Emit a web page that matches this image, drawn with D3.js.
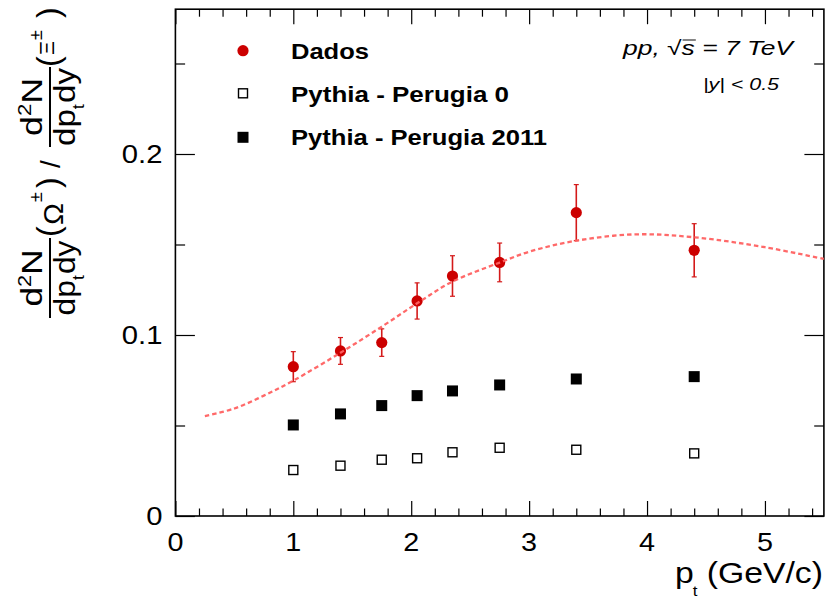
<!DOCTYPE html>
<html><head><meta charset="utf-8">
<script src="https://cdn.jsdelivr.net/npm/d3@7"></script>
<style>
body{margin:0;background:#fff}
svg{display:block}
text{font-family:"Liberation Sans",Arial,Helvetica,sans-serif;fill:#000}
</style>
</head><body>
<svg id="c" width="825" height="602"></svg>
<script>
// ---- data ----
const ptBins      = [1.0, 1.4, 1.75, 2.05, 2.35, 2.75, 3.4, 4.4];
const dados       = [0.0825, 0.0912, 0.0958, 0.1188, 0.1326, 0.1401, 0.1676, 0.1468];
const dadosErr    = [0.0083, 0.0074, 0.0076, 0.0100, 0.0112, 0.0107, 0.0155, 0.0147];
const perugia0    = [0.0254, 0.0278, 0.0311, 0.0319, 0.0352, 0.0377, 0.0366, 0.0346];
const perugia2011 = [0.0503, 0.0564, 0.0610, 0.0665, 0.0691, 0.0724, 0.0757, 0.0770];
const fitPt       = [0.25, 0.5, 0.75, 1.0, 1.4, 1.75, 2.05, 2.35, 2.75, 3.0, 3.4, 3.9, 4.4, 5.0, 5.5];
const fitRatio    = [0.0552, 0.0594, 0.0665, 0.0748, 0.0902, 0.1046, 0.1175, 0.1295, 0.1400, 0.1460, 0.1521, 0.1556, 0.1540, 0.1485, 0.1420];
const xTickValues = [0, 1, 2, 3, 4, 5];
const xTickLabels = ["0", "1", "2", "3", "4", "5"];
const yTickValues = [0, 0.1, 0.2];
const yTickLabels = ["0", "0.1", "0.2"];
const legendLabels = ["Dados", "Pythia - Perugia 0", "Pythia - Perugia 2011"];

const svg = d3.select("#c");
const L = 175.4, R = 823.9, T = 9.2, B = 516;
const x = d3.scaleLinear().domain([0, 5.5]).range([L, R]);
const y = d3.scaleLinear().domain([0, 0.28]).range([B, T]);
const RED = "#cc0000";

function stretch(sel, f) {
  sel.each(function () {
    const w = this.getComputedTextLength();
    d3.select(this).attr("textLength", w * f).attr("lengthAdjust", "spacingAndGlyphs");
  });
}

// ---- axes (ticks inside, on all four sides) ----
const xMinor = d3.range(0, 5.5001, 0.2).filter(v => Math.abs(v - Math.round(v)) > 1e-6);
const yMinor = [0.05, 0.15, 0.25];

function tickAxis(axisFn, scale, vals, size, tr) {
  const g = svg.append("g").attr("transform", tr)
    .call(axisFn(scale).tickValues(vals).tickSize(size).tickFormat(""));
  g.select(".domain").remove();
  g.selectAll(".tick line").attr("stroke", "#000").attr("stroke-width", 1.2);
  return g;
}
tickAxis(d3.axisBottom, x, xTickValues, -15, `translate(0,${B})`);
tickAxis(d3.axisBottom, x, xMinor, -7.5, `translate(0,${B})`);
tickAxis(d3.axisTop, x, xTickValues, -15, `translate(0,${T})`);
tickAxis(d3.axisTop, x, xMinor, -7.5, `translate(0,${T})`);
tickAxis(d3.axisLeft, y, yTickValues, -19.5, `translate(${L},0)`);
tickAxis(d3.axisLeft, y, yMinor, -9.7, `translate(${L},0)`);
tickAxis(d3.axisRight, y, yTickValues, -19.5, `translate(${R},0)`);
tickAxis(d3.axisRight, y, yMinor, -9.7, `translate(${R},0)`);

// tick labels
const xl = svg.append("g").selectAll("text").data(xTickValues).join("text")
  .attr("x", d => x(d)).attr("y", 551).attr("text-anchor", "middle")
  .attr("font-size", 25).text((d, i) => xTickLabels[i]);
stretch(xl, 1.15);
const yl = svg.append("g").selectAll("text").data(yTickValues).join("text")
  .attr("x", 162.5).attr("y", d => y(d) + 9).attr("text-anchor", "end")
  .attr("font-size", 25).text((d, i) => yTickLabels[i]);
stretch(yl, 1.17);

// frame
svg.append("rect").attr("x", L).attr("y", T).attr("width", R - L).attr("height", B - T)
  .attr("fill", "none").attr("stroke", "#000").attr("stroke-width", 1.6);

// ---- data marks ----
const pts = ptBins.map((p, i) => ({ p, d: dados[i], e: dadosErr[i], p0: perugia0[i], p11: perugia2011[i] }));

// Perugia 0 open squares
svg.append("g").selectAll("rect").data(pts).join("rect")
  .attr("x", d => x(d.p) - 4.5).attr("y", d => y(d.p0) - 4.5)
  .attr("width", 9).attr("height", 9)
  .attr("fill", "#fff").attr("stroke", "#000").attr("stroke-width", 1.4);

// Perugia 2011 filled squares
svg.append("g").selectAll("rect").data(pts).join("rect")
  .attr("x", d => x(d.p) - 5.5).attr("y", d => y(d.p11) - 5.5)
  .attr("width", 11).attr("height", 11).attr("fill", "#000");

// Dados error bars
const eb = svg.append("g").attr("stroke", "#d41a1a").attr("stroke-width", 1.6);
eb.selectAll("line.v").data(pts).join("line").attr("class", "v")
  .attr("x1", d => x(d.p)).attr("x2", d => x(d.p))
  .attr("y1", d => y(d.d + d.e)).attr("y2", d => y(d.d - d.e));
eb.selectAll("line.t").data(pts).join("line").attr("class", "t")
  .attr("x1", d => x(d.p) - 2.5).attr("x2", d => x(d.p) + 2.5)
  .attr("y1", d => y(d.d + d.e)).attr("y2", d => y(d.d + d.e)).attr("stroke-width", 1.2);
eb.selectAll("line.b").data(pts).join("line").attr("class", "b")
  .attr("x1", d => x(d.p) - 2.5).attr("x2", d => x(d.p) + 2.5)
  .attr("y1", d => y(d.d - d.e)).attr("y2", d => y(d.d - d.e)).attr("stroke-width", 1.2);

// Dados points
svg.append("g").selectAll("circle").data(pts).join("circle")
  .attr("cx", d => x(d.p)).attr("cy", d => y(d.d)).attr("r", 5.6).attr("fill", RED);

// fit curve (dashed)
const fitData = fitPt.map((p, i) => [p, fitRatio[i]]);
svg.append("path").datum(fitData)
  .attr("d", d3.line().x(d => x(d[0])).y(d => y(d[1])).curve(d3.curveCatmullRom.alpha(0.5)))
  .attr("fill", "none").attr("stroke", "#ff6161").attr("stroke-width", 2.3)
  .attr("stroke-dasharray", "4.5,3").attr("opacity", 0.95);

// ---- legend ----
const leg = svg.append("g");
leg.append("circle").attr("cx", 243).attr("cy", 50.7).attr("r", 5.6).attr("fill", RED);
leg.append("rect").attr("x", 243 - 4.5).attr("y", 93.3 - 4.5).attr("width", 9).attr("height", 9)
  .attr("fill", "#fff").attr("stroke", "#000").attr("stroke-width", 1.4);
leg.append("rect").attr("x", 243 - 5.5).attr("y", 137.3 - 5.5).attr("width", 11).attr("height", 11).attr("fill", "#000");
const legY = [59.3, 102, 145.3];
const legW = [78, 218, 256];
leg.selectAll("text").data(legendLabels).join("text")
  .attr("x", 291).attr("y", (d, i) => legY[i])
  .attr("font-size", 22).attr("font-weight", "bold")
  .attr("textLength", (d, i) => legW[i]).attr("lengthAdjust", "spacingAndGlyphs")
  .text(d => d);

// ---- annotation ----
const ann = svg.append("text").attr("x", 623).attr("y", 55).attr("font-size", 20)
  .attr("font-style", "italic").attr("fill", "#333")
  .attr("textLength", 170).attr("lengthAdjust", "spacingAndGlyphs")
  .text("pp, \u221As = 7 TeV");
{
  const e = ann.node().getExtentOfChar(5);
  svg.append("line").attr("x1", e.x + 1).attr("x2", e.x + e.width + 1)
    .attr("y1", e.y + 3).attr("y2", e.y + 3).attr("stroke", "#333").attr("stroke-width", 1.2);
}
svg.append("text").attr("x", 703).attr("y", 90).attr("font-size", 16)
  .attr("font-style", "italic").attr("fill", "#333")
  .attr("textLength", 76).attr("lengthAdjust", "spacingAndGlyphs")
  .text("|y| < 0.5");

// ---- x-axis title ----
const xt = svg.append("text").attr("x", 675).attr("y", 583).attr("font-size", 30)
  .attr("textLength", 148).attr("lengthAdjust", "spacingAndGlyphs");
xt.append("tspan").text("p");
xt.append("tspan").attr("font-size", 15).attr("dy", 13).attr("dx", -1).text("t");
xt.append("tspan").attr("dy", -13).text(" (GeV/c)");

// ---- y-axis title (rotated; local x = -screen y, local y = screen x) ----
const yt = svg.append("g").attr("transform", "rotate(-90)");
const FS = 29;
function frac(center, w1, w2) {
  // numerator
  const n = yt.append("text").attr("x", center).attr("y", 42).attr("font-size", FS)
    .attr("text-anchor", "middle").attr("textLength", w1).attr("lengthAdjust", "spacingAndGlyphs");
  n.append("tspan").text("d");
  n.append("tspan").attr("font-size", 18).attr("dy", -11).text("2");
  n.append("tspan").attr("dy", 11).text("N");
  // bar
  yt.append("line").attr("x1", center - 40).attr("x2", center + 40)
    .attr("y1", 50).attr("y2", 50).attr("stroke", "#000").attr("stroke-width", 2);
  // denominator
  const dn = yt.append("text").attr("x", center).attr("y", 75).attr("font-size", FS)
    .attr("text-anchor", "middle").attr("textLength", w2).attr("lengthAdjust", "spacingAndGlyphs");
  dn.append("tspan").text("dp");
  dn.append("tspan").attr("font-size", 16).attr("dy", 9).text("t");
  dn.append("tspan").attr("dy", -9).attr("dx", 1).text("dy");
}
frac(-278, 57, 75);
frac(-107, 58, 78);
function paren(start, sym, symSize, symBase, symW) {
  yt.append("text").attr("x", start).attr("y", 59).attr("font-size", 32).text("(");
  yt.append("text").attr("x", start + 12).attr("y", symBase).attr("font-size", symSize)
    .attr("textLength", symW).attr("lengthAdjust", "spacingAndGlyphs").text(sym);
  yt.append("text").attr("x", start + 13 + symW).attr("y", 42).attr("font-size", 18).text("\u00B1");
  yt.append("text").attr("x", start + 49).attr("y", 59).attr("font-size", 32).text(")");
}
paren(-237, "\u03A9", 27, 63, 22);
paren(-67, "\u039E", 20, 54, 14);
yt.append("text").attr("x", -168).attr("y", 60).attr("font-size", 28).text("/");
</script>
</body></html>
